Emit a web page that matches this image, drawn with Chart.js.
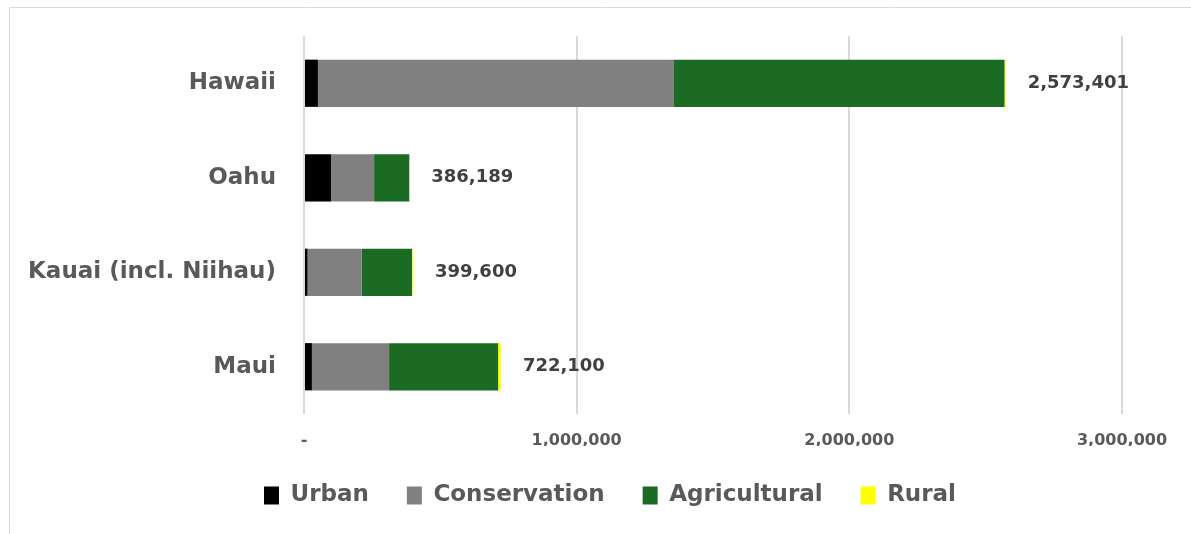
<!DOCTYPE html>
<html>
<head>
<meta charset="utf-8">
<script src="https://cdn.jsdelivr.net/npm/chart.js@4/dist/chart.umd.min.js"></script>
<style>
  html, body { margin: 0; background: #ffffff; overflow: hidden; }
  #wrap { position: absolute; left: 0; top: 0; width: 1191px; height: 534px; }
</style>
</head>
<body>
<div id="wrap"><canvas id="landChart" width="1191" height="534"></canvas></div>
<script>
// land use district acreage by island
let islands = ["Hawaii", "Oahu", "Kauai (incl. Niihau)", "Maui"];
let urban = [51000, 99000, 13000, 29000];
let conservation = [1306000, 158000, 199000, 283000];
let agricultural = [1212000, 129189, 184000, 400000];
let rural = [4401, 0, 3600, 10100];
let totals = [2573401, 386189, 399600, 722100];
let x_ticks = [0, 1000000, 2000000, 3000000];

let fontName = "'DejaVu Sans', 'Open Sans', sans-serif";

// chart frame: only the left and top edges show in the picture
let frameLines = {
    id: 'frameLines',
    beforeDraw(chart) {
        let ctx = chart.ctx;
        ctx.save();
        ctx.strokeStyle = '#d9d9d9';
        ctx.lineWidth = 1;
        ctx.beginPath();
        ctx.moveTo(9.5, chart.height);
        ctx.lineTo(9.5, 7.5);
        ctx.lineTo(chart.width, 7.5);
        ctx.stroke();
        ctx.restore();
    }
};

// total label to the right of each stack
let totalLabels = {
    id: 'totalLabels',
    afterDatasetsDraw(chart) {
        let ctx = chart.ctx;
        let xs = chart.scales.x;
        let ys = chart.scales.y;
        ctx.save();
        ctx.font = "bold 18px " + fontName;
        ctx.fillStyle = '#404040';
        ctx.textAlign = 'left';
        ctx.textBaseline = 'middle';
        for (let i in totals) {
            let x = xs.getPixelForValue(totals[i]) + 22;
            let y = ys.getPixelForValue(parseInt(i));
            ctx.fillText(totals[i].toLocaleString('en-US'), x, y);
        }
        ctx.restore();
    }
};

function noPad(scale) {
    scale.paddingTop = 0;
    scale.paddingBottom = 0;
    scale.paddingLeft = 0;
    scale.paddingRight = 0;
}

let ctx1 = document.getElementById('landChart');
let landChart = new Chart(ctx1, {
    type: 'bar',
    data: {
        labels: islands,
        datasets: [
            { label: 'Urban', data: urban, backgroundColor: '#000000' },
            { label: 'Conservation', data: conservation, backgroundColor: '#808080' },
            { label: 'Agricultural', data: agricultural, backgroundColor: '#1b6b25' },
            { label: 'Rural', data: rural, backgroundColor: '#ffff00' }
        ]
    },
    options: {
        indexAxis: 'y',
        responsive: false,
        maintainAspectRatio: false,
        animation: false,
        categoryPercentage: 1,
        barPercentage: 0.5,
        layout: { padding: { top: 36, right: 0, left: 29, bottom: 17 } },
        scales: {
            x: {
                stacked: true,
                min: 0,
                max: 3000000,
                afterBuildTicks(scale) {
                    scale.ticks = x_ticks.map(v => ({ value: v }));
                },
                afterFit(scale) {
                    scale.height = 32;
                    noPad(scale);
                    scale.paddingRight = 69;
                },
                grid: { color: '#d9d9d9', lineWidth: 2, drawTicks: false },
                border: { display: false },
                ticks: {
                    padding: 17,
                    color: '#595959',
                    font: { family: fontName, size: 16, weight: 'bold' },
                    callback: function(value) {
                        if (value === 0) return '-';
                        return value.toLocaleString('en-US');
                    }
                }
            },
            y: {
                stacked: true,
                afterFit(scale) { scale.width = 275; noPad(scale); },
                grid: { display: false },
                border: { display: false },
                ticks: {
                    padding: 20,
                    color: '#595959',
                    font: { family: fontName, size: 23, weight: 'bold' }
                }
            }
        },
        plugins: {
            legend: {
                position: 'bottom',
                labels: {
                    boxWidth: 15,
                    boxHeight: 18,
                    padding: 38,
                    color: '#595959',
                    font: { family: fontName, size: 23, weight: 'bold' }
                }
            },
            tooltip: { enabled: false }
        }
    },
    plugins: [frameLines, totalLabels]
});
</script>
</body>
</html>
